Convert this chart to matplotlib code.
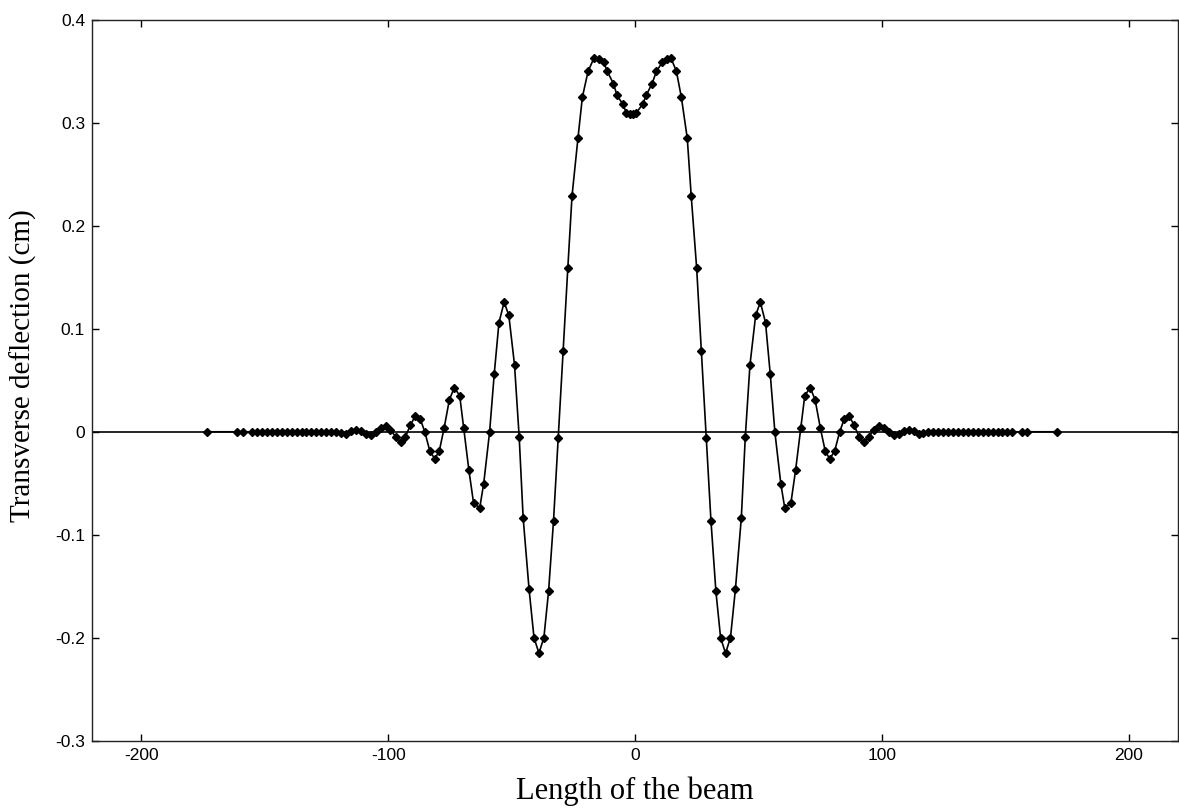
import numpy as np
import matplotlib.pyplot as plt

# beam positions (left tail, left wiggles, central hump, right wiggles, right tail)
x_left_tail = [-173.2, -161.1, -159.0, -155.1, -153.1, -151.1, -149.1, -147.1, -145.1,
               -143.1, -141.1, -139.1, -137.1, -135.1, -133.1, -131.1, -129.1, -127.1,
               -125.1, -123.1, -121.1]
x_left = [-119.1, -117.1, -115.1, -113.1, -111.1, -109.0, -107.0, -105.0, -103.0, -101.0,
          -99.2, -96.9, -94.9, -93.0, -91.0, -89.1, -87.0, -85.1, -83.1, -81.1,
          -79.3, -77.3, -75.2, -73.2, -71.0, -69.4, -67.3, -65.4, -62.9, -61.3,
          -58.9, -57.0, -55.1, -53.0, -51.1, -48.8, -46.9, -45.3, -42.9, -40.9,
          -38.9, -36.9, -35.0, -33.0, -31.1, -29.1, -27.2]
x_mid = [-25.5, -23.1, -21.3, -19.0, -16.6, -14.7, -12.7, -11.2, -8.7, -7.3, -4.9, -3.5, -2.1,
         -0.8, 0.6, 3.1, 4.6, 6.9, 8.7, 11.1, 12.8, 14.6, 16.8, 18.8, 21.2, 22.8]
x_right = [25.0, 26.9, 28.9, 30.8, 32.8, 34.7, 36.7, 38.7, 40.7, 43.1,
           44.7, 46.6, 48.9, 50.8, 52.9, 54.8, 56.7, 59.1, 60.7, 63.2,
           65.1, 67.2, 68.8, 71.0, 73.0, 75.1, 77.1, 78.9, 80.9, 82.9,
           84.8, 86.9, 88.8, 90.8, 92.7, 94.7, 97.0, 98.8, 100.8, 102.8,
           104.8, 106.8, 108.9, 110.9, 112.9, 114.9, 116.9]
x_right_tail = [118.9, 120.9, 122.9, 124.9, 126.9, 128.9, 130.9, 132.9, 134.9, 136.9,
                138.9, 140.9, 142.9, 144.9, 146.9, 148.9, 150.9, 152.9, 156.8, 158.9,
                171.0]

# transverse deflection (cm)
w_left_tail = [0.0] * 21
w_left = [-0.0014, -0.0026, 0.0006, 0.0022, 0.0006, -0.0026, -0.0033, -0.0004, 0.0038, 0.0060,
          0.0022, -0.0049, -0.0101, -0.0049, 0.0064, 0.0149, 0.0125, -0.0004, -0.0189, -0.0262,
          -0.0189, 0.0038, 0.031, 0.043, 0.035, 0.0038, -0.037, -0.069, -0.074, -0.0506,
          -0.0004, 0.0565, 0.106, 0.126, 0.113, 0.065, -0.0052, -0.0835, -0.153, -0.200,
          -0.215, -0.200, -0.155, -0.0867, -0.0059, 0.078, 0.159]
w_mid = [0.229, 0.285, 0.325, 0.350, 0.363, 0.362, 0.359, 0.350, 0.338, 0.327, 0.318, 0.310, 0.309,
         0.309, 0.310, 0.318, 0.327, 0.338, 0.350, 0.359, 0.362, 0.363, 0.350, 0.325, 0.285, 0.229]
w_right = [0.159, 0.078, -0.0059, -0.0867, -0.155, -0.200, -0.215, -0.200, -0.153, -0.0835,
           -0.0052, 0.065, 0.113, 0.126, 0.106, 0.0565, -0.0004, -0.0506, -0.074, -0.069,
           -0.037, 0.0038, 0.035, 0.043, 0.031, 0.0038, -0.0189, -0.0262, -0.0189, -0.0004,
           0.0125, 0.0149, 0.0064, -0.0049, -0.0101, -0.0049, 0.0022, 0.0060, 0.0038, -0.0004,
           -0.0033, -0.0026, 0.0006, 0.0022, 0.0006, -0.0026, -0.0014]
w_right_tail = [0.0] * 21

xticks = [-200, -100, 0, 100, 200]
xtick_labels = ["-200", "-100", "0", "100", "200"]
yticks = [-0.3, -0.2, -0.1, 0.0, 0.1, 0.2, 0.3, 0.4]
ytick_labels = ["-0.3", "-0.2", "-0.1", "0", "0.1", "0.2", "0.3", "0.4"]

x = np.array(x_left_tail + x_left + x_mid + x_right + x_right_tail)
w = np.array(w_left_tail + w_left + w_mid + w_right + w_right_tail)

fig = plt.figure(figsize=(11.79, 8.10), dpi=100)
ax = fig.add_axes([0.078, 0.0856, 0.9211, 0.8898])

ax.axhline(0, color="k", lw=1.2, zorder=1)
ax.plot(x, w, "-", color="k", lw=1.2, marker="D", markersize=3.7, zorder=2)

ax.set_xlim(-220, 220)
ax.set_ylim(-0.3, 0.4)
ax.set_xticks(xticks)
ax.set_xticklabels(xtick_labels)
ax.set_yticks(yticks)
ax.set_yticklabels(ytick_labels)
ax.tick_params(direction="in", length=5, width=1, top=True, right=True,
               labelsize=12.5, pad=5)
for lbl in ax.get_xticklabels() + ax.get_yticklabels():
    lbl.set_family("Liberation Sans")
for sp in ax.spines.values():
    sp.set_linewidth(1)
    sp.set_color("#222222")

ax.set_xlabel("Length of the beam", family="Liberation Serif", fontsize=22, labelpad=10)
ax.set_ylabel("Transverse deflection (cm)", family="Liberation Serif", fontsize=21)
ax.yaxis.set_label_coords(-0.051, 0.52)

plt.savefig("out.png", dpi=100)
